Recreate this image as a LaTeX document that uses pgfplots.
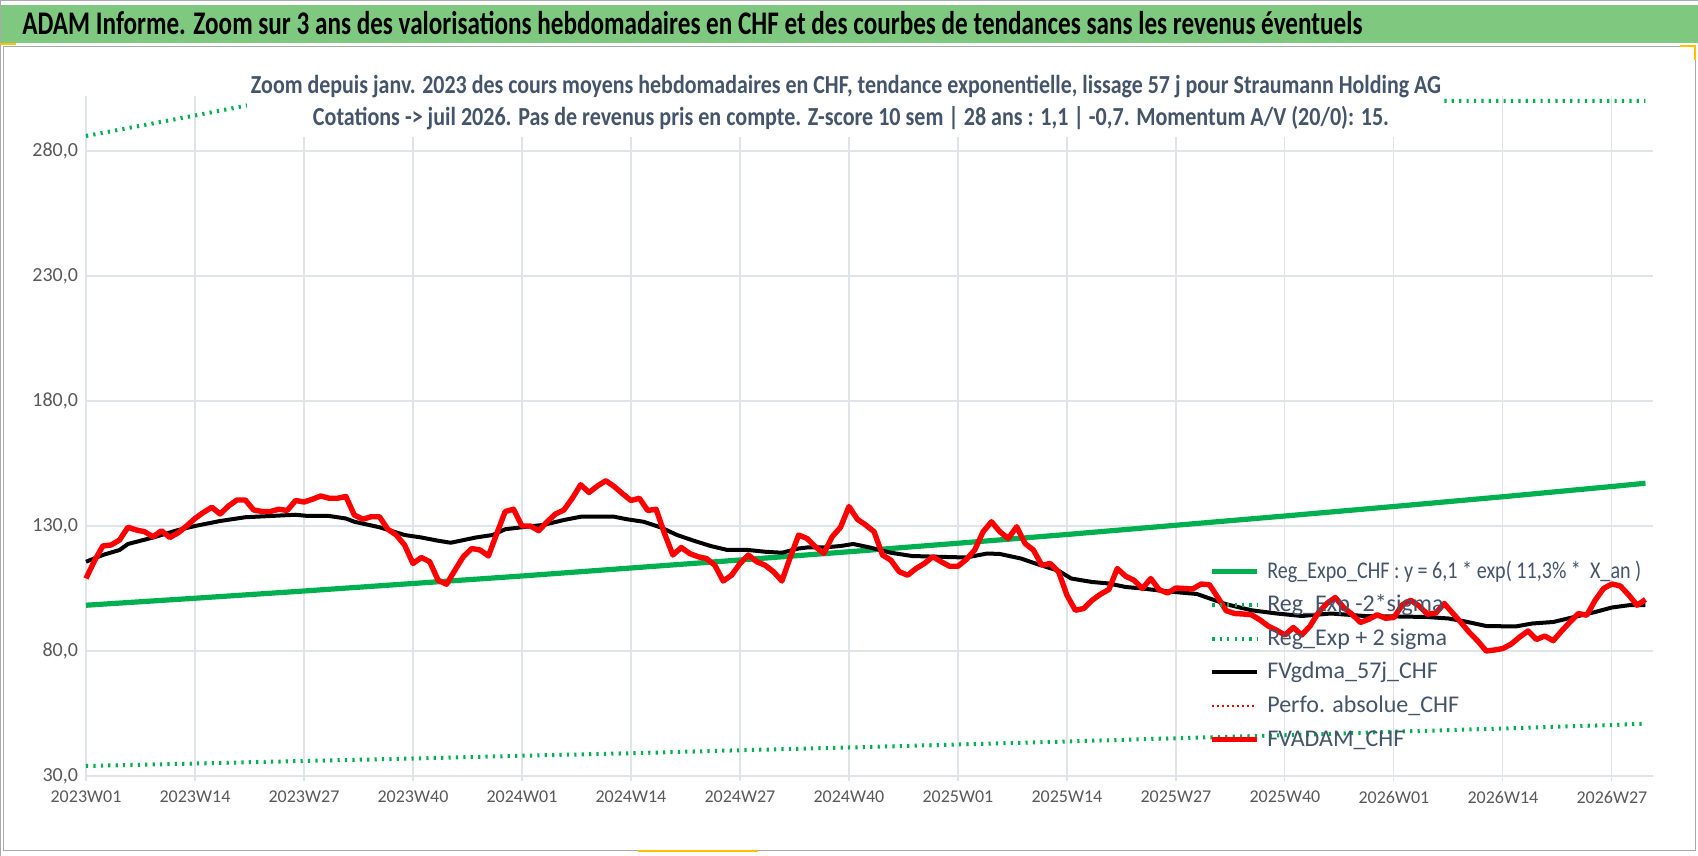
\documentclass[border=0pt]{standalone}
\usepackage{pgfplots}
\pgfplotsset{compat=1.18}
\usepackage{graphicx}
\usepackage{fontspec}
\setmainfont{Carlito}
\definecolor{hdrgreen}{RGB}{127,200,127}
\definecolor{greenc}{RGB}{0,176,80}
\definecolor{gridcol}{RGB}{224,227,232}
\definecolor{tickcol}{RGB}{89,89,89}
\definecolor{titlecol}{RGB}{68,84,106}
\definecolor{framecol}{RGB}{170,170,170}
\definecolor{handle}{RGB}{255,192,0}
\begin{document}
\begin{tikzpicture}
\useasboundingbox (0,0) rectangle (849pt,428pt);
\fill[white] (0,0) rectangle (849pt,428pt);
% header bar
\fill[hdrgreen] (0,406.5pt) rectangle (849pt,425.5pt);
\draw[framecol,line width=0.6pt] (0,427.6pt) -- (849pt,427.6pt);
\draw[framecol,line width=0.6pt] (0.4pt,0) -- (0.4pt,428pt);
\node[anchor=base west,inner sep=0pt] at (11pt,410.5pt)
  {\resizebox{670pt}{\height}{\bfseries\fontsize{16.5}{18}\selectfont ADAM Informe. Zoom sur 3 ans des valorisations hebdomadaires en CHF et des courbes de tendances sans les revenus éventuels}};
% chart area frame
\draw[framecol,line width=0.5pt] (1.5pt,2.5pt) rectangle (847.5pt,404.5pt);
\draw[handle,line width=0.8pt] (0,406pt) -- (8pt,406pt);
\draw[handle,line width=0.8pt] (840pt,405pt) -- (847.5pt,405pt) -- (847.5pt,398pt);
\draw[handle,line width=0.8pt] (319pt,2.5pt) -- (379pt,2.5pt);
\begin{axis}[
  at={(43pt,40pt)}, anchor=south west,
  scale only axis, width=783.5pt, height=337.5pt,
  xmin=0, xmax=186.9, ymin=30, ymax=300,
  clip=false,
  axis line style={draw=none},
  grid=major, major grid style={gridcol, line width=0.55pt},
  xtick={0,13,...,182},
  xticklabels={2023W01,2023W14,2023W27,2023W40,2024W01,2024W14,2024W27,2024W40,2025W01,2025W14,2025W27,2025W40,2026W01,2026W14,2026W27},
  ytick={30,80,...,280},
  tick align=outside, major tick length=2.5pt,
  xtick style={gridcol, line width=0.55pt}, ytick style={draw=none},
  ticklabel style={text=tickcol},
  /pgf/number format/assume math mode=true,
  yticklabel style={font=\fontsize{10}{12}\selectfont, /pgf/number format/.cd, fixed, fixed zerofill, precision=1, use comma, /tikz/.cd, xshift=2pt},
  xticklabel style={font=\fontsize{9}{10}\selectfont, yshift=-1.5pt},
  legend style={at={(0.7168,0.3190)}, anchor=north west, draw=none, fill=none,
    font=\fontsize{12}{14}\selectfont, text=titlecol, inner sep=0pt, row sep=6.3pt,
    nodes={inner sep=0pt, text height=8.5pt, text depth=2pt},
    /tikz/every odd column/.append style={column sep=3.65pt}},
  legend cell align=left,
  legend image code/.code={\draw[#1] (0pt,0pt) -- (22.5pt,0pt);},
]
\addplot[greenc, line width=2.6pt] coordinates {
(0,98.3) (13,101.1) (26,104.0) (39,107.0) (52,110.0) (65,113.2) (78,116.4) (91,119.7) (104,123.1) (117,126.6) (130,130.3) (143,134.0) (156,137.8) (169,141.7) (182,145.8) (186,147.1)};
\addlegendentry{\resizebox{187pt}{\height}{Reg\_Expo\_CHF : y = 6,1 * exp( 11,3\% * \ X\_an )}}
\addplot[greenc, line width=2pt, dash pattern=on 1.1pt off 2.6pt] coordinates {
(0,34.0) (13,35.0) (26,36.0) (39,37.0) (52,38.1) (65,39.1) (78,40.3) (91,41.4) (104,42.6) (117,43.8) (130,45.1) (143,46.3) (156,47.7) (169,49.0) (182,50.4) (186,50.9)};
\addlegendentry{Reg\_Exp -2*sigma}
\addplot[greenc, line width=2pt, dash pattern=on 1.1pt off 2.6pt] coordinates {
(0,286.0) (13,294.2) (22,300) (186,300)};
\addlegendentry{Reg\_Exp + 2 sigma}
\addplot[black, line width=2pt, line join=round] coordinates {
(0,115.7) (2,118.4) (4,120.4) (5,122.8) (8,125.4) (11,128.4) (13,130) (16,132) (19,133.5) (22,134) (25,134.5) (26.5,134) (29,134) (31,133) (32,131.7) (35,129.5) (38,126.4) (40,125.4) (42,124.1) (43.5,123.3) (46.5,125.4) (48.5,126.4) (50,128.7) (52.5,129.7) (54.5,130.4) (57,132.4) (59,133.7) (63,133.7) (64.5,132.7) (66.5,131.7) (68.5,129.5) (70.5,126.4) (72.5,124.1) (74.5,122) (76.5,120.4) (79,120.4) (81,119.7) (83,119.3) (85,121) (86,121.4) (88,121.4) (90,122) (91.5,122.8) (93.5,121.4) (96,119.3) (98.5,118) (101.5,117.7) (105,117.4) (107.5,119) (109,118.8) (111.5,117) (113.5,114.7) (116,112.1) (117.5,109) (120,107.6) (122,107) (124,105.6) (126,105) (128.5,104) (132.5,102.8) (136,98.7) (139,96.3) (142,95) (145,94) (148.5,95) (152.5,94) (156.5,93.8) (160,93.6) (162.5,93) (164.5,91.8) (167,90) (170.5,89.8) (172.5,91) (175,91.6) (177.5,93.6) (180,95.6) (182,97.4) (184,98.3) (186,98.3)};
\addlegendentry{FVgdma\_57j\_CHF}
\addlegendimage{red, line width=1.2pt, dash pattern=on 1pt off 1.5pt}
\addlegendentry{Perfo. absolue\_CHF}
\addplot[red, line width=2.7pt, line join=round] table {
0 109
1 116
2 122
3 122.4
4 124.4
5 129.5
6 128.4
7 127.7
8 125.7
9 128.1
10 125.4
11 127.3
12 130
13 133
14 135.4
15 137.5
16 134.8
17 138
18 140.4
19 140.4
20 136.4
21 135.8
22 135.8
23 136.7
24 136.2
25 140.2
26 139.6
27 140.7
28 142
29 141.1
30 141.1
31 141.8
32 134.4
33 132.7
34 133.7
35 133.7
36 128.7
37 126.4
38 122.4
39 115
40 117.4
41 115.7
42 108.3
43 106.7
44 112.3
45 117.7
46 121
47 120.4
48 118
49 127
50 135.8
51 136.7
52 130
53 130
54 128.1
55 131.7
56 134.8
57 136.4
58 141.1
59 146.5
60 143.4
61 146
62 148.1
63 145.8
64 142.9
65 140.2
66 141.1
67 136.2
68 136.7
69 127
70 118.4
71 121.4
72 119
73 117.7
74 117
75 114.3
76 108
77 110.3
78 115
79 118.4
80 115.7
81 114.3
82 111.7
83 108
84 117.5
85 126.4
86 125
87 121.7
88 119
89 125.7
90 129.5
91 137.8
92 132.7
93 130.4
94 127.7
95 118.4
96 116.3
97 111.7
98 110.3
99 113
100 115
101 117.7
102 115.7
103 113.9
104 113.9
105 116.6
106 120.4
107 127.7
108 131.7
109 127.7
110 125
111 129.7
112 123
113 120.4
114 114.3
115 115
116 111.7
117 102.3
118 96.3
119 97
120 100.3
121 102.7
122 104.6
123 113
124 109.9
125 108.3
126 105
127 109
128 104.5
129 103.2
130 105.2
131 105
132 104.8
133 106.8
134 106.5
135 101.4
136 96.1
137 95
138 94.8
139 94.5
140 92.5
141 90
142 88.3
143 86.4
144 89.4
145 86.4
146 90
147 95.4
148 99
149 101.4
150 97.4
151 94.7
152 91.4
153 92.7
154 94.5
155 93.1
156 93.4
157 98.5
158 100.3
159 98
160 94.7
161 95.2
162 99
163 95.2
164 91.4
165 87.4
166 84
167 80
168 80.4
169 81
170 82.8
171 85.6
172 88
173 84.6
174 86
175 84.1
176 88
177 91.6
178 95
179 94.3
180 100.3
181 105
182 106.8
183 106
184 102.4
185 98.3
186 100.6
};
\addlegendentry{FVADAM\_CHF}
\end{axis}
% title box covering the clipped upper band
\fill[white] (123.5pt,359.5pt) rectangle (720.5pt,397pt);
\node[anchor=base,inner sep=0pt,text=titlecol] at (423pt,381pt)
  {\resizebox{595pt}{\height}{\bfseries\fontsize{13}{15}\selectfont Zoom depuis janv. 2023 des cours moyens hebdomadaires en CHF, tendance exponentielle, lissage 57 j pour Straumann Holding AG}};
\node[anchor=base,inner sep=0pt,text=titlecol] at (425.5pt,365pt)
  {\resizebox{538pt}{\height}{\bfseries\fontsize{13}{15}\selectfont Cotations -> juil 2026. Pas de revenus pris en compte. Z-score 10 sem | 28 ans : 1,1 | -0,7. Momentum A/V (20/0): 15.}};
\end{tikzpicture}
\end{document}
